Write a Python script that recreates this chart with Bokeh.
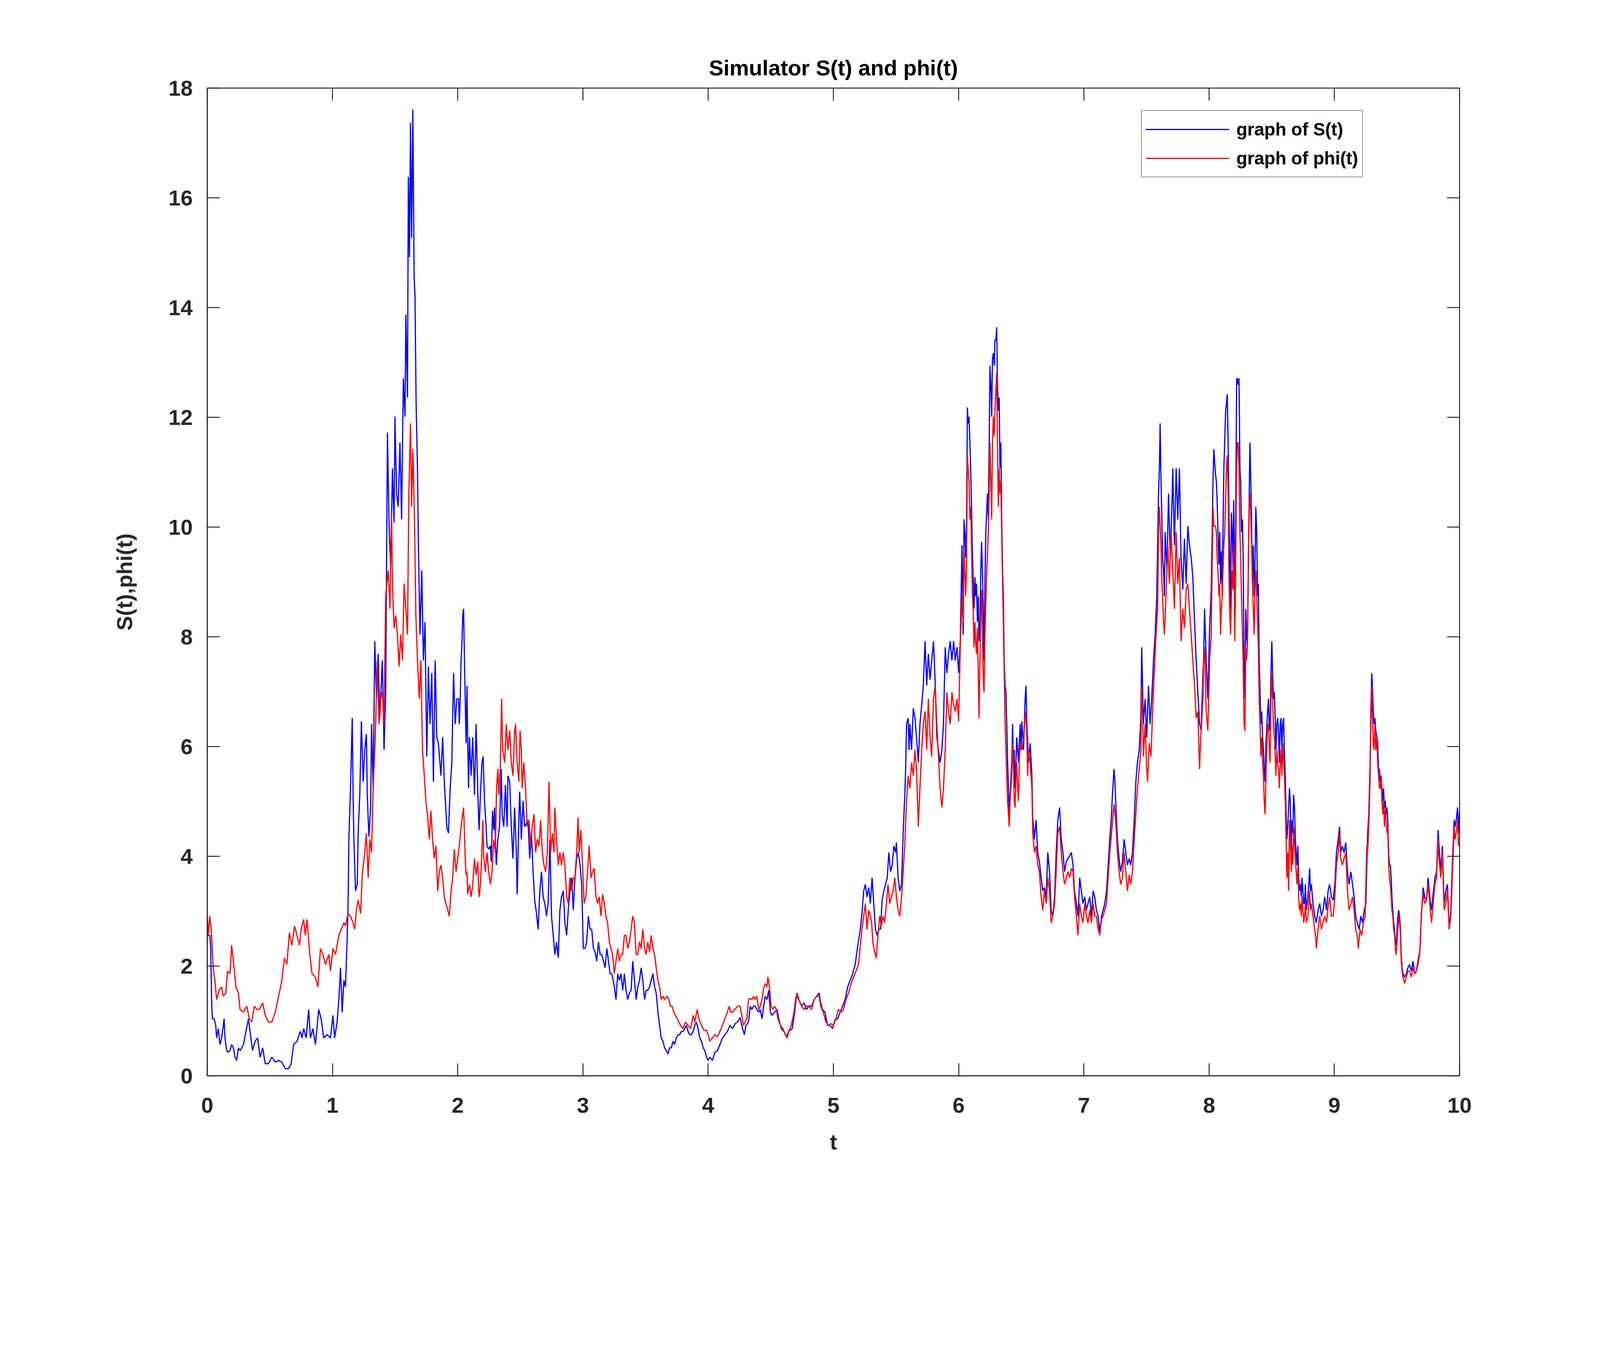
import math
from bokeh.plotting import figure
from bokeh.models import Range1d, FixedTicker, Legend, LegendItem
from bokeh.embed import file_html
from bokeh.resources import INLINE

TITLE = "Simulator S(t) and phi(t)"
X_LABEL = "t"
Y_LABEL = "S(t),phi(t)"
LEGEND_LABELS = ["graph of S(t)", "graph of phi(t)"]
X_TICKS = [0, 1, 2, 3, 4, 5, 6, 7, 8, 9, 10]
Y_TICKS = [0, 2, 4, 6, 8, 10, 12, 14, 16, 18]

s_points = [
    (0.000, 2.56), (0.021, 2.56), (0.028, 2.32), (0.035, 1.39), (0.041, 1.04), (0.055, 1.04), (0.068, 0.92),
    (0.075, 0.69), (0.088, 0.86), (0.102, 0.57), (0.115, 0.69), (0.128, 0.92), (0.135, 1.04), (0.142, 0.69),
    (0.155, 0.46), (0.168, 0.43), (0.182, 0.46), (0.195, 0.57), (0.209, 0.51), (0.222, 0.34), (0.235, 0.28),
    (0.249, 0.51), (0.262, 0.46), (0.275, 0.51), (0.289, 0.57), (0.309, 0.81), (0.329, 1.04), (0.342, 0.81),
    (0.362, 0.46), (0.382, 0.63), (0.402, 0.69), (0.422, 0.34), (0.443, 0.51), (0.463, 0.22), (0.489, 0.22),
    (0.516, 0.34), (0.543, 0.25), (0.570, 0.28), (0.596, 0.25), (0.623, 0.13), (0.650, 0.13), (0.670, 0.22),
    (0.690, 0.57), (0.717, 0.63), (0.743, 0.81), (0.757, 0.69), (0.770, 0.86), (0.790, 0.69), (0.810, 1.21),
    (0.824, 0.69), (0.844, 0.86), (0.864, 0.57), (0.890, 1.21), (0.910, 1.04), (0.930, 0.69), (0.957, 0.75),
    (0.984, 0.69), (1.004, 1.10), (1.017, 0.69), (1.037, 0.98), (1.051, 1.39), (1.064, 1.97), (1.078, 1.16),
    (1.091, 1.74), (1.104, 1.62), (1.118, 2.56), (1.124, 3.02), (1.131, 4.31), (1.144, 5.24), (1.158, 6.52),
    (1.164, 5.24), (1.171, 4.31), (1.184, 3.37), (1.198, 3.49), (1.205, 4.42), (1.218, 5.12), (1.231, 6.46),
    (1.245, 5.36), (1.258, 5.94), (1.271, 6.23), (1.278, 5.12), (1.291, 4.36), (1.305, 4.89), (1.312, 6.41),
    (1.325, 5.24), (1.338, 7.92), (1.352, 6.87), (1.365, 7.69), (1.378, 6.52), (1.398, 7.57), (1.412, 5.94),
    (1.425, 6.99), (1.439, 11.72), (1.452, 10.02), (1.465, 9.32), (1.479, 11.07), (1.492, 10.08), (1.499, 12.01),
    (1.512, 10.61), (1.525, 10.37), (1.539, 11.54), (1.552, 10.14), (1.566, 12.71), (1.579, 12.01), (1.586, 13.87),
    (1.599, 12.36), (1.606, 16.38), (1.615, 14.92), (1.623, 17.37), (1.632, 15.27), (1.642, 17.61), (1.652, 14.57),
    (1.659, 14.22), (1.668, 12.24), (1.679, 11.07), (1.686, 9.73), (1.699, 8.04), (1.713, 9.21), (1.726, 7.57),
    (1.739, 8.27), (1.753, 5.82), (1.766, 7.46), (1.779, 6.41), (1.793, 7.34), (1.806, 5.36), (1.820, 7.57),
    (1.833, 6.17), (1.846, 6.06), (1.866, 5.47), (1.880, 6.17), (1.893, 5.36), (1.913, 4.54), (1.926, 4.42),
    (1.940, 5.24), (1.953, 5.71), (1.967, 7.34), (1.980, 6.41), (1.993, 6.87),
    (2.007, 6.87), (2.013, 6.41), (2.020, 6.87), (2.027, 7.57), (2.033, 7.81), (2.040, 8.39), (2.047, 8.51),
    (2.054, 7.57), (2.060, 6.87), (2.067, 6.06), (2.074, 7.11), (2.080, 6.06), (2.087, 5.24), (2.094, 6.17),
    (2.107, 5.47), (2.120, 6.17), (2.134, 5.12), (2.147, 6.41), (2.161, 5.12), (2.171, 4.48), (2.181, 5.12),
    (2.194, 5.71), (2.203, 5.82), (2.214, 5.01), (2.227, 4.54), (2.234, 4.19), (2.247, 4.13), (2.261, 4.19),
    (2.268, 3.90), (2.278, 4.83), (2.288, 4.48), (2.294, 4.89), (2.308, 3.84), (2.321, 4.31), (2.334, 4.54),
    (2.348, 5.59), (2.355, 4.77), (2.368, 4.54), (2.381, 5.30), (2.395, 4.54), (2.401, 5.47), (2.415, 5.36),
    (2.428, 4.54), (2.441, 3.96), (2.455, 4.89), (2.468, 4.07), (2.475, 3.31), (2.488, 4.66), (2.495, 5.18),
    (2.508, 4.31), (2.522, 5.01), (2.535, 4.54), (2.548, 4.60), (2.562, 4.66), (2.575, 3.96), (2.589, 4.42),
    (2.602, 3.72), (2.615, 3.20), (2.629, 2.96), (2.642, 2.67), (2.656, 3.37), (2.669, 3.72), (2.682, 3.26),
    (2.696, 3.14), (2.709, 2.91), (2.722, 3.14), (2.736, 4.31), (2.749, 2.91), (2.763, 2.56), (2.776, 2.21),
    (2.789, 2.44), (2.803, 2.15), (2.816, 3.02), (2.829, 3.26), (2.843, 3.37), (2.856, 2.79), (2.870, 2.56),
    (2.883, 3.02), (2.896, 3.37), (2.910, 3.61), (2.923, 3.02), (2.936, 3.61), (2.950, 3.96), (2.963, 4.07),
    (2.977, 3.84), (2.990, 3.49), (3.003, 2.32), (3.017, 2.32), (3.030, 2.44), (3.043, 2.91), (3.057, 2.67),
    (3.070, 2.67), (3.084, 2.32), (3.097, 2.26), (3.110, 2.09), (3.124, 2.44), (3.137, 2.21), (3.150, 2.21),
    (3.164, 2.09), (3.177, 1.97), (3.191, 2.32), (3.204, 2.09), (3.217, 1.86), (3.231, 1.86), (3.251, 1.62),
    (3.264, 1.39), (3.278, 1.86), (3.291, 1.74), (3.304, 1.86), (3.318, 1.56), (3.331, 1.86), (3.344, 1.56),
    (3.358, 1.39), (3.371, 1.51), (3.385, 1.56), (3.398, 2.09), (3.411, 1.74), (3.425, 1.39), (3.438, 1.62),
    (3.452, 1.74), (3.465, 1.97), (3.478, 1.74), (3.492, 1.39), (3.505, 1.56), (3.518, 1.56), (3.532, 1.62),
    (3.545, 1.74), (3.559, 1.86), (3.572, 1.62), (3.585, 1.51), (3.599, 1.16), (3.612, 0.92), (3.625, 0.69),
    (3.639, 0.63), (3.652, 0.51), (3.666, 0.46), (3.679, 0.40), (3.692, 0.51), (3.706, 0.51), (3.719, 0.63),
    (3.732, 0.57), (3.746, 0.69), (3.759, 0.75), (3.773, 0.75), (3.786, 0.81), (3.799, 0.81), (3.813, 0.86),
    (3.826, 0.92), (3.839, 0.81), (3.853, 0.75), (3.866, 0.75), (3.880, 0.81), (3.893, 0.92), (3.906, 0.98),
    (3.920, 0.86), (3.933, 0.69), (3.947, 0.63), (3.960, 0.51), (3.973, 0.46), (3.987, 0.34), (4.000, 0.28),
    (4.013, 0.34), (4.034, 0.28), (4.054, 0.43), (4.074, 0.46), (4.094, 0.57), (4.114, 0.69), (4.134, 0.75),
    (4.154, 0.81), (4.174, 0.92), (4.195, 0.86), (4.215, 0.95), (4.235, 0.98), (4.255, 1.06), (4.275, 0.86),
    (4.289, 0.75), (4.302, 0.92), (4.322, 0.98), (4.336, 1.27), (4.349, 1.21), (4.362, 1.27), (4.376, 1.27),
    (4.389, 1.21), (4.403, 1.16), (4.416, 1.21), (4.430, 1.04), (4.443, 1.27), (4.456, 1.45), (4.470, 1.39),
    (4.483, 1.56), (4.497, 1.16), (4.510, 1.10), (4.530, 1.16), (4.550, 1.21), (4.564, 1.04), (4.584, 0.86),
    (4.604, 0.81), (4.624, 0.71), (4.644, 0.81), (4.671, 0.86), (4.691, 1.16), (4.705, 1.45), (4.725, 1.39),
    (4.745, 1.27), (4.765, 1.33), (4.785, 1.21), (4.805, 1.27), (4.826, 1.27), (4.846, 1.39), (4.866, 1.45),
    (4.886, 1.51), (4.899, 1.33), (4.913, 1.21), (4.933, 1.16), (4.953, 0.92), (4.973, 0.92), (4.993, 0.86),
    (5.013, 1.02), (5.034, 1.04), (5.054, 1.16), (5.074, 1.27), (5.094, 1.39), (5.114, 1.62), (5.134, 1.74),
    (5.154, 1.86), (5.174, 2.03), (5.195, 2.38), (5.215, 2.67), (5.228, 2.96), (5.242, 3.37), (5.255, 3.49),
    (5.268, 3.26), (5.282, 3.43), (5.295, 3.14), (5.309, 3.61), (5.322, 3.14), (5.336, 2.67), (5.349, 2.56),
    (5.362, 2.67), (5.376, 2.67), (5.389, 3.20), (5.403, 3.37), (5.416, 3.49), (5.430, 3.61), (5.443, 4.07),
    (5.456, 3.72), (5.470, 3.84), (5.483, 4.19), (5.497, 4.07), (5.503, 4.25), (5.517, 3.61), (5.530, 3.37),
    (5.544, 3.49), (5.557, 4.42), (5.570, 5.12), (5.577, 5.59), (5.584, 6.41), (5.597, 6.52), (5.604, 5.94),
    (5.611, 6.41), (5.624, 5.94), (5.638, 6.70), (5.651, 6.52), (5.664, 6.17), (5.678, 5.71), (5.691, 6.41),
    (5.705, 6.76), (5.718, 7.11), (5.732, 7.92), (5.745, 7.11), (5.758, 7.69), (5.772, 7.22), (5.785, 7.57),
    (5.799, 7.92), (5.812, 7.22), (5.826, 6.17), (5.839, 5.94), (5.852, 5.71), (5.866, 5.94), (5.879, 6.41),
    (5.893, 7.81), (5.906, 7.34), (5.919, 7.69), (5.933, 7.92), (5.946, 7.57), (5.960, 7.92), (5.973, 7.57),
    (5.987, 7.81), (6.000, 7.34), (6.013, 7.92), (6.027, 9.67),
    (6.036, 8.04), (6.043, 10.14), (6.050, 9.91), (6.056, 9.44), (6.063, 10.02), (6.070, 12.18), (6.076, 11.89),
    (6.083, 12.01), (6.090, 11.54), (6.096, 11.07), (6.103, 10.37), (6.110, 9.56), (6.116, 9.09), (6.123, 8.51),
    (6.130, 9.09), (6.136, 8.74), (6.143, 8.97), (6.150, 8.27), (6.157, 8.74), (6.163, 7.92), (6.170, 8.16),
    (6.177, 9.21), (6.183, 9.73), (6.190, 9.21), (6.197, 8.39), (6.203, 7.57), (6.210, 8.97), (6.217, 9.91),
    (6.230, 10.61), (6.237, 10.14), (6.244, 11.54), (6.250, 12.94), (6.257, 12.59), (6.264, 12.01), (6.270, 13.06),
    (6.277, 13.17), (6.284, 12.94), (6.290, 13.41), (6.297, 13.41), (6.304, 13.64), (6.310, 12.59), (6.317, 12.12),
    (6.324, 12.36), (6.330, 11.07), (6.337, 11.54), (6.344, 10.14), (6.351, 9.21), (6.357, 8.74), (6.364, 7.57),
    (6.371, 7.11), (6.378, 6.99), (6.384, 6.41), (6.391, 5.71), (6.398, 5.24), (6.404, 4.77), (6.411, 5.12),
    (6.424, 5.71), (6.431, 6.41), (6.438, 5.59), (6.444, 5.94), (6.451, 5.24), (6.458, 5.71), (6.464, 6.17),
    (6.478, 5.71), (6.491, 6.41), (6.498, 5.94), (6.505, 6.46), (6.518, 5.94), (6.531, 6.87), (6.538, 7.11),
    (6.545, 6.41), (6.558, 5.71), (6.571, 6.06), (6.585, 5.47), (6.592, 4.71), (6.605, 4.31), (6.618, 4.66),
    (6.632, 4.07), (6.645, 3.90), (6.659, 3.61), (6.672, 3.37), (6.685, 3.43), (6.699, 3.26), (6.712, 4.07),
    (6.726, 3.72), (6.739, 3.02), (6.752, 2.91), (6.766, 3.26), (6.779, 4.07), (6.792, 4.66), (6.806, 4.89),
    (6.819, 4.31), (6.833, 4.07), (6.846, 3.72), (6.859, 3.90), (6.873, 3.96), (6.886, 4.01), (6.900, 4.07),
    (6.913, 3.84), (6.926, 3.37), (6.940, 3.14), (6.953, 2.91), (6.967, 3.61), (6.980, 3.37), (6.993, 3.14),
    (7.007, 3.26), (7.020, 3.02), (7.033, 3.14), (7.047, 3.26), (7.060, 2.91), (7.074, 3.37), (7.087, 3.26),
    (7.100, 3.02), (7.114, 2.91), (7.127, 2.61), (7.141, 2.91), (7.154, 3.02), (7.167, 3.14), (7.181, 3.37),
    (7.194, 3.84), (7.207, 4.31), (7.221, 4.77), (7.228, 5.12), (7.241, 5.59), (7.248, 5.36), (7.254, 5.01),
    (7.268, 4.31), (7.281, 3.96), (7.294, 3.72), (7.308, 3.90), (7.321, 4.31), (7.335, 4.07), (7.348, 3.84),
    (7.362, 3.96), (7.375, 3.84), (7.388, 4.07), (7.402, 4.66), (7.415, 5.36), (7.428, 5.71), (7.442, 5.94),
    (7.455, 6.52), (7.462, 7.81), (7.469, 7.11), (7.475, 6.41), (7.489, 6.87), (7.502, 6.17), (7.516, 7.11),
    (7.529, 6.41), (7.542, 6.87), (7.556, 7.57), (7.569, 8.04), (7.582, 8.74), (7.596, 10.61), (7.603, 11.07),
    (7.609, 11.89), (7.616, 10.84), (7.623, 10.14), (7.629, 9.44), (7.636, 9.21), (7.643, 8.74), (7.649, 9.91),
    (7.663, 9.21), (7.676, 10.61), (7.690, 9.44), (7.703, 10.37), (7.710, 11.07), (7.723, 9.67), (7.737, 11.07),
    (7.750, 10.14), (7.763, 11.07), (7.776, 9.44), (7.790, 8.86), (7.803, 9.79), (7.817, 8.97), (7.830, 10.02),
    (7.843, 9.67), (7.857, 9.44), (7.870, 9.09), (7.884, 8.27), (7.897, 7.57), (7.910, 6.99), (7.924, 6.41),
    (7.937, 6.29), (7.950, 6.87), (7.964, 8.51), (7.977, 7.57), (7.990, 6.87), (8.004, 8.16), (8.017, 8.86),
    (8.031, 10.84), (8.038, 11.42),
    (8.051, 10.96), (8.058, 10.84), (8.064, 10.49), (8.071, 9.91), (8.078, 9.32), (8.085, 9.91), (8.091, 8.97),
    (8.098, 9.56), (8.105, 8.74), (8.111, 9.91), (8.118, 11.07), (8.132, 12.12), (8.138, 12.24), (8.145, 12.42),
    (8.152, 11.54), (8.158, 10.37), (8.165, 9.44), (8.172, 8.51), (8.178, 10.26), (8.185, 9.91), (8.192, 9.21),
    (8.196, 10.49), (8.201, 9.79), (8.209, 8.51), (8.213, 10.49), (8.220, 12.71), (8.225, 12.71), (8.232, 12.59),
    (8.239, 12.71), (8.246, 11.07), (8.252, 10.84), (8.259, 9.91), (8.266, 10.14), (8.272, 9.44), (8.279, 7.57),
    (8.286, 6.87), (8.293, 8.51), (8.299, 8.04), (8.306, 7.81), (8.313, 9.21), (8.319, 10.37), (8.326, 11.54),
    (8.333, 10.84), (8.340, 9.91), (8.346, 8.97), (8.353, 9.67), (8.360, 8.74), (8.366, 9.21), (8.373, 10.37),
    (8.380, 9.91), (8.387, 8.74), (8.393, 8.97), (8.400, 7.57), (8.407, 6.99), (8.413, 6.41), (8.420, 6.64),
    (8.427, 6.17), (8.434, 5.94), (8.440, 5.59), (8.447, 5.36), (8.454, 6.06), (8.467, 6.64), (8.474, 6.87),
    (8.481, 6.29), (8.487, 6.41), (8.494, 7.34), (8.501, 7.92), (8.507, 7.34), (8.514, 6.87), (8.521, 6.99),
    (8.528, 6.52), (8.534, 5.94), (8.541, 6.41), (8.548, 6.52), (8.554, 6.29), (8.561, 5.71), (8.568, 6.41),
    (8.575, 6.52), (8.581, 5.94), (8.588, 6.41), (8.595, 6.52), (8.601, 5.94), (8.608, 5.47), (8.615, 4.77),
    (8.621, 4.31), (8.628, 4.54), (8.642, 5.24), (8.648, 5.01), (8.655, 4.07), (8.662, 4.66), (8.668, 4.42),
    (8.675, 5.12), (8.682, 4.89), (8.689, 4.31), (8.695, 4.07), (8.702, 3.84), (8.709, 4.19), (8.715, 3.61),
    (8.722, 3.37), (8.729, 3.49), (8.736, 3.26), (8.742, 3.61), (8.749, 3.37), (8.756, 3.14), (8.762, 3.14),
    (8.769, 3.49), (8.776, 3.02), (8.789, 3.26), (8.803, 3.78), (8.809, 3.37), (8.816, 3.49), (8.830, 3.14),
    (8.843, 2.91), (8.856, 2.79), (8.870, 3.02), (8.883, 3.14), (8.897, 2.91), (8.910, 3.02), (8.923, 3.26),
    (8.937, 3.02), (8.950, 3.37), (8.962, 3.49), (8.977, 3.26), (8.991, 3.20), (9.004, 3.49), (9.017, 4.07),
    (9.031, 4.31), (9.042, 4.54), (9.051, 4.07), (9.064, 4.19), (9.078, 4.07), (9.091, 4.25), (9.105, 3.72),
    (9.118, 3.49), (9.132, 3.72), (9.145, 3.49), (9.158, 3.26), (9.170, 2.91), (9.183, 2.79), (9.198, 2.67),
    (9.212, 2.91), (9.225, 2.79), (9.239, 3.02), (9.252, 3.14), (9.266, 4.42), (9.275, 4.77), (9.286, 5.71),
    (9.291, 6.64), (9.299, 7.34), (9.304, 7.11), (9.311, 6.64), (9.317, 6.41), (9.324, 6.52), (9.331, 6.29),
    (9.340, 6.17), (9.346, 6.06), (9.353, 5.59), (9.360, 5.59), (9.366, 5.36), (9.373, 5.47), (9.380, 5.24),
    (9.387, 5.01), (9.393, 5.24), (9.400, 4.89), (9.407, 5.01), (9.413, 4.77), (9.420, 4.89), (9.427, 4.66),
    (9.434, 4.07), (9.440, 3.84), (9.447, 3.84), (9.454, 3.61), (9.460, 3.26), (9.467, 3.02), (9.474, 2.79),
    (9.481, 2.67), (9.487, 2.44), (9.494, 2.38), (9.507, 2.91), (9.514, 3.02), (9.521, 2.91), (9.528, 2.67),
    (9.534, 2.21), (9.541, 1.97), (9.548, 1.86), (9.561, 1.80), (9.575, 1.86), (9.588, 1.97), (9.601, 2.03),
    (9.615, 1.91), (9.628, 2.09), (9.642, 1.86), (9.655, 1.91), (9.668, 2.09), (9.682, 2.26), (9.695, 2.91),
    (9.709, 3.43), (9.722, 3.26), (9.736, 3.20), (9.749, 3.61), (9.762, 3.26), (9.776, 3.02), (9.789, 3.31),
    (9.803, 3.61), (9.816, 3.72), (9.829, 4.48), (9.836, 4.19), (9.850, 3.72), (9.863, 4.19), (9.870, 3.61),
    (9.877, 3.14), (9.890, 3.37), (9.903, 3.49), (9.917, 2.67), (9.930, 3.02), (9.944, 3.96), (9.957, 4.66),
    (9.964, 4.54), (9.973, 4.66), (9.984, 4.89), (9.991, 4.42), (10.000, 4.85),
]

phi_points = [
    (0.000, 2.96), (0.008, 2.56), (0.021, 2.91), (0.035, 2.56), (0.048, 1.97), (0.061, 1.74), (0.075, 1.39),
    (0.095, 1.56), (0.115, 1.62), (0.128, 1.45), (0.148, 1.51), (0.162, 1.91), (0.182, 1.86), (0.195, 2.38),
    (0.209, 2.09), (0.229, 1.62), (0.249, 1.51), (0.262, 1.21), (0.289, 1.16), (0.316, 1.27), (0.336, 1.04),
    (0.356, 0.98), (0.376, 1.27), (0.396, 1.21), (0.416, 1.21), (0.443, 1.33), (0.463, 1.10), (0.489, 0.98),
    (0.516, 0.98), (0.543, 1.16), (0.570, 1.45), (0.596, 1.74), (0.616, 2.15), (0.636, 2.03), (0.656, 2.61),
    (0.676, 2.38), (0.697, 2.73), (0.717, 2.56), (0.737, 2.38), (0.750, 2.67), (0.770, 2.85), (0.783, 2.56),
    (0.797, 2.85), (0.817, 2.26), (0.837, 1.86), (0.864, 1.80), (0.884, 1.62), (0.904, 2.32), (0.924, 2.21),
    (0.944, 2.03), (0.971, 2.21), (0.984, 1.91), (1.004, 2.32), (1.024, 2.21), (1.051, 2.56), (1.071, 2.67),
    (1.091, 2.79), (1.104, 2.73), (1.124, 2.96), (1.144, 2.91), (1.164, 2.79), (1.178, 2.67), (1.191, 3.02),
    (1.205, 3.20), (1.225, 2.96), (1.238, 3.66), (1.258, 4.07), (1.271, 4.42), (1.285, 3.61), (1.298, 4.31),
    (1.312, 4.07), (1.325, 5.24), (1.338, 5.94), (1.345, 6.41), (1.358, 7.57), (1.372, 6.41), (1.385, 6.87),
    (1.398, 6.99), (1.412, 6.41), (1.425, 8.74), (1.445, 9.21), (1.459, 8.51), (1.472, 10.26), (1.479, 8.97),
    (1.492, 8.16), (1.505, 8.39), (1.519, 8.04), (1.532, 7.46), (1.545, 8.04), (1.559, 7.57), (1.572, 8.97),
    (1.586, 8.51), (1.599, 8.04), (1.610, 10.61), (1.623, 11.89), (1.632, 10.37), (1.642, 11.42), (1.655, 10.14),
    (1.666, 8.39), (1.679, 7.57), (1.693, 6.87), (1.706, 7.57), (1.719, 5.94), (1.733, 5.47), (1.746, 5.01),
    (1.759, 4.77), (1.773, 4.31), (1.786, 4.83), (1.799, 4.31), (1.813, 3.96), (1.826, 4.19), (1.840, 3.37),
    (1.853, 3.72), (1.866, 3.84), (1.880, 3.61), (1.893, 3.26), (1.906, 3.14), (1.920, 3.02), (1.933, 2.91),
    (1.947, 3.37), (1.960, 3.61), (1.973, 4.13), (1.987, 3.72),
    (2.013, 4.19), (2.027, 4.54), (2.040, 4.77), (2.047, 4.89), (2.054, 4.42), (2.060, 3.96), (2.067, 3.66),
    (2.074, 3.72), (2.080, 3.31), (2.094, 3.49), (2.107, 3.26), (2.120, 3.49), (2.134, 3.96), (2.147, 3.66),
    (2.161, 3.90), (2.167, 3.37), (2.174, 3.26), (2.187, 3.72), (2.201, 4.66), (2.207, 4.01), (2.221, 3.72),
    (2.234, 4.07), (2.247, 3.72), (2.261, 3.49), (2.274, 3.72), (2.288, 4.31), (2.301, 4.07), (2.310, 5.24),
    (2.321, 5.59), (2.328, 5.12), (2.341, 5.71), (2.351, 6.87), (2.359, 5.94), (2.375, 5.71), (2.388, 6.41),
    (2.401, 5.94), (2.415, 6.29), (2.428, 5.71), (2.441, 5.47), (2.455, 6.29), (2.462, 6.41), (2.475, 5.71),
    (2.488, 5.36), (2.498, 6.29), (2.508, 5.94), (2.515, 5.24), (2.528, 5.71), (2.542, 5.24), (2.555, 4.54),
    (2.569, 4.66), (2.582, 4.19), (2.595, 4.54), (2.609, 4.77), (2.622, 4.07), (2.635, 4.31), (2.649, 4.19),
    (2.662, 4.66), (2.676, 4.07), (2.689, 3.84), (2.702, 3.72), (2.716, 4.07), (2.729, 5.36), (2.742, 4.07),
    (2.756, 4.42), (2.769, 4.07), (2.776, 4.89), (2.789, 4.31), (2.803, 3.84), (2.816, 4.07), (2.829, 3.84),
    (2.843, 4.07), (2.856, 3.84), (2.870, 3.26), (2.883, 3.14), (2.896, 3.61), (2.910, 3.37), (2.923, 3.61),
    (2.936, 3.61), (2.950, 4.07), (2.961, 4.71), (2.970, 4.07), (2.983, 4.48), (2.997, 3.84), (3.010, 3.14),
    (3.023, 3.26), (3.037, 3.72), (3.050, 4.19), (3.064, 3.61), (3.077, 3.72), (3.090, 3.78), (3.104, 3.26),
    (3.117, 3.14), (3.130, 3.26), (3.144, 2.91), (3.157, 3.31), (3.171, 3.14), (3.184, 2.91), (3.197, 2.79),
    (3.211, 2.44), (3.224, 2.32), (3.237, 2.21), (3.251, 1.86), (3.264, 2.09), (3.278, 2.32), (3.291, 2.09),
    (3.304, 2.21), (3.318, 2.21), (3.331, 2.56), (3.344, 2.56), (3.358, 2.32), (3.371, 2.44), (3.385, 2.67),
    (3.398, 2.91), (3.411, 2.79), (3.425, 2.21), (3.438, 2.21), (3.452, 2.44), (3.465, 2.32), (3.478, 2.67),
    (3.492, 2.32), (3.505, 2.21), (3.518, 2.44), (3.532, 2.26), (3.545, 2.56), (3.559, 2.32), (3.572, 2.21),
    (3.585, 1.97), (3.599, 1.74), (3.612, 1.62), (3.625, 1.39), (3.639, 1.45), (3.652, 1.39), (3.672, 1.45),
    (3.686, 1.39), (3.699, 1.27), (3.712, 1.27), (3.726, 1.16), (3.739, 1.10), (3.753, 1.04), (3.766, 0.98),
    (3.779, 0.92), (3.799, 0.86), (3.819, 0.98), (3.839, 0.92), (3.860, 0.86), (3.880, 1.10), (3.893, 0.98),
    (3.913, 1.21), (3.926, 1.04), (3.947, 0.92), (3.967, 0.83), (3.987, 0.83), (4.000, 0.75),
    (4.013, 0.63), (4.034, 0.69), (4.054, 0.75), (4.074, 0.71), (4.094, 0.81), (4.114, 0.92), (4.134, 1.04),
    (4.154, 1.16), (4.168, 1.27), (4.181, 1.16), (4.195, 1.16), (4.215, 1.21), (4.235, 1.27), (4.255, 1.27),
    (4.269, 1.10), (4.282, 0.92), (4.295, 0.98), (4.309, 1.04), (4.322, 1.39), (4.336, 1.41), (4.349, 1.39),
    (4.362, 1.45), (4.376, 1.39), (4.389, 1.45), (4.403, 1.21), (4.416, 1.27), (4.430, 1.39), (4.443, 1.60),
    (4.456, 1.68), (4.470, 1.62), (4.477, 1.80), (4.490, 1.62), (4.503, 1.27), (4.517, 1.21), (4.530, 1.27),
    (4.544, 1.21), (4.557, 1.04), (4.577, 0.92), (4.597, 0.86), (4.617, 0.75), (4.631, 0.69), (4.644, 0.81),
    (4.664, 0.92), (4.685, 1.16), (4.698, 1.39), (4.709, 1.51), (4.725, 1.39), (4.745, 1.27), (4.765, 1.21),
    (4.785, 1.27), (4.805, 1.27), (4.826, 1.21), (4.846, 1.39), (4.866, 1.45), (4.886, 1.45), (4.899, 1.27),
    (4.919, 1.16), (4.940, 0.98), (4.960, 0.92), (4.980, 0.95), (5.000, 0.92), (5.020, 1.04), (5.040, 1.21),
    (5.060, 1.16), (5.081, 1.21), (5.101, 1.39), (5.121, 1.51), (5.141, 1.68), (5.161, 1.80), (5.181, 1.91),
    (5.201, 2.03), (5.215, 2.38), (5.228, 2.67), (5.242, 2.91), (5.255, 3.14), (5.268, 2.67), (5.282, 3.02),
    (5.295, 2.91), (5.305, 2.79), (5.315, 2.44), (5.329, 2.26), (5.342, 2.15), (5.356, 2.56), (5.369, 2.91),
    (5.383, 2.73), (5.396, 2.91), (5.409, 2.79), (5.423, 3.14), (5.436, 3.49), (5.450, 3.14), (5.463, 3.26),
    (5.477, 3.37), (5.490, 3.61), (5.503, 3.26), (5.517, 3.02), (5.530, 2.91), (5.544, 3.26), (5.557, 3.72),
    (5.570, 4.19), (5.584, 5.01), (5.597, 5.47), (5.611, 5.24), (5.624, 5.71), (5.638, 5.47), (5.651, 5.94),
    (5.664, 5.59), (5.678, 4.54), (5.691, 5.24), (5.705, 5.94), (5.718, 6.41), (5.732, 6.64), (5.745, 5.94),
    (5.758, 6.87), (5.772, 6.17), (5.785, 5.82), (5.799, 6.87), (5.812, 7.11), (5.826, 6.41), (5.839, 5.82),
    (5.852, 5.24), (5.866, 4.89), (5.879, 5.24), (5.893, 5.94), (5.906, 6.99), (5.919, 6.64), (5.933, 6.41),
    (5.946, 6.99), (5.960, 6.76), (5.973, 6.64), (5.987, 6.87), (6.000, 6.46), (6.013, 7.81), (6.027, 8.74),
    (6.036, 8.27), (6.043, 9.56), (6.050, 9.21), (6.056, 8.74), (6.063, 9.21), (6.070, 11.31), (6.076, 11.07),
    (6.083, 10.84), (6.090, 10.14), (6.096, 10.37), (6.103, 9.67), (6.110, 8.74), (6.116, 8.51), (6.123, 7.81),
    (6.130, 8.27), (6.136, 7.92), (6.143, 7.69), (6.150, 8.16), (6.157, 7.34), (6.163, 6.52), (6.170, 7.57),
    (6.177, 8.39), (6.183, 8.86), (6.190, 8.04), (6.197, 7.22), (6.203, 6.99), (6.210, 8.04), (6.223, 9.09),
    (6.237, 9.91), (6.244, 10.61), (6.250, 11.54), (6.257, 10.84), (6.264, 10.14), (6.270, 11.54), (6.277, 12.01),
    (6.284, 11.66), (6.290, 12.12), (6.297, 12.47), (6.304, 12.82), (6.310, 11.54), (6.317, 10.37), (6.324, 11.07),
    (6.330, 10.61), (6.337, 10.84), (6.344, 9.91), (6.351, 8.97), (6.357, 8.27), (6.364, 7.34), (6.371, 6.41),
    (6.378, 5.94), (6.384, 5.47), (6.391, 5.01), (6.398, 4.77), (6.404, 4.54), (6.411, 5.01), (6.424, 5.47),
    (6.431, 6.06), (6.438, 5.71), (6.444, 5.01), (6.451, 4.89), (6.458, 5.47), (6.464, 5.71), (6.471, 5.24),
    (6.478, 5.01), (6.484, 5.71), (6.491, 6.06), (6.505, 5.94), (6.518, 6.17), (6.531, 6.52), (6.538, 6.64),
    (6.545, 6.17), (6.551, 5.47), (6.558, 5.94), (6.571, 5.71), (6.585, 5.24), (6.592, 4.42), (6.605, 4.07),
    (6.618, 4.19), (6.632, 3.84), (6.645, 3.72), (6.659, 3.26), (6.672, 3.02), (6.685, 3.37), (6.699, 3.14),
    (6.712, 3.61), (6.726, 3.37), (6.739, 2.79), (6.752, 2.91), (6.766, 3.14), (6.779, 3.72), (6.792, 4.42),
    (6.806, 4.54), (6.819, 4.07), (6.833, 3.72), (6.846, 3.49), (6.859, 3.61), (6.873, 3.72), (6.886, 3.61),
    (6.900, 3.78), (6.913, 3.72), (6.926, 3.26), (6.940, 2.91), (6.953, 2.56), (6.967, 3.14), (6.980, 2.91),
    (6.993, 2.79), (7.007, 3.14), (7.020, 2.91), (7.033, 2.79), (7.047, 3.02), (7.060, 2.79), (7.074, 3.14),
    (7.087, 2.91), (7.100, 2.91), (7.114, 2.67), (7.127, 2.56), (7.141, 2.85), (7.154, 2.91), (7.167, 3.02),
    (7.181, 3.14), (7.194, 3.61), (7.207, 4.07), (7.221, 4.42), (7.234, 4.77), (7.241, 4.95), (7.248, 4.77),
    (7.254, 4.66), (7.268, 4.07), (7.281, 3.72), (7.294, 3.49), (7.308, 3.61), (7.321, 4.07), (7.335, 3.72),
    (7.348, 3.37), (7.362, 3.66), (7.375, 3.49), (7.388, 3.72), (7.402, 4.31), (7.415, 4.77), (7.428, 5.24),
    (7.442, 5.59), (7.455, 5.94), (7.462, 7.11), (7.469, 6.64), (7.475, 5.82), (7.489, 6.41), (7.502, 5.59),
    (7.509, 5.36), (7.522, 6.06), (7.536, 5.82), (7.549, 6.64), (7.562, 7.34), (7.576, 8.04), (7.589, 8.51),
    (7.596, 9.91), (7.603, 10.37), (7.616, 9.67), (7.623, 8.97), (7.629, 8.74), (7.636, 8.27), (7.643, 8.04),
    (7.656, 8.74), (7.663, 9.21), (7.670, 9.67), (7.683, 8.97), (7.696, 9.91), (7.710, 9.21), (7.723, 8.51),
    (7.737, 9.91), (7.750, 8.97), (7.763, 9.44), (7.776, 7.92), (7.790, 8.51), (7.803, 8.16), (7.817, 8.86),
    (7.830, 8.97), (7.843, 8.51), (7.857, 8.04), (7.870, 7.57), (7.884, 7.11), (7.897, 6.52), (7.910, 6.64),
    (7.924, 5.59), (7.937, 6.41), (7.950, 7.34), (7.964, 7.81), (7.977, 6.64), (7.990, 6.29), (8.004, 7.57),
    (8.017, 8.04), (8.031, 10.37), (8.038, 10.02),
    (8.051, 10.02), (8.058, 9.91), (8.064, 9.44), (8.071, 9.21), (8.078, 8.74), (8.085, 8.97), (8.091, 8.04),
    (8.098, 8.51), (8.105, 8.74), (8.111, 9.21), (8.118, 9.67), (8.125, 9.91), (8.132, 10.49), (8.138, 11.07),
    (8.145, 11.31), (8.152, 10.61), (8.158, 9.21), (8.165, 8.39), (8.172, 8.04), (8.178, 8.74), (8.185, 9.21),
    (8.192, 8.86), (8.199, 9.67), (8.205, 7.92), (8.212, 9.21), (8.218, 10.84), (8.225, 11.54), (8.232, 11.54),
    (8.239, 11.07), (8.246, 9.91), (8.252, 9.44), (8.259, 8.74), (8.266, 8.04), (8.272, 7.57), (8.279, 6.41),
    (8.286, 6.29), (8.293, 7.81), (8.299, 7.57), (8.306, 7.81), (8.313, 9.21), (8.319, 10.37), (8.326, 10.61),
    (8.333, 10.14), (8.340, 9.67), (8.346, 8.97), (8.353, 8.51), (8.360, 8.04), (8.366, 8.86), (8.373, 9.21),
    (8.380, 8.74), (8.387, 8.27), (8.393, 7.81), (8.400, 6.87), (8.407, 6.41), (8.413, 5.82), (8.420, 6.17),
    (8.427, 5.71), (8.434, 5.47), (8.440, 5.01), (8.447, 4.77), (8.454, 5.47), (8.460, 5.94), (8.467, 6.41),
    (8.474, 6.41), (8.481, 5.94), (8.487, 5.71), (8.494, 6.87), (8.501, 7.34), (8.507, 6.87), (8.514, 6.41),
    (8.521, 6.17), (8.528, 5.82), (8.534, 5.47), (8.541, 5.94), (8.548, 5.71), (8.554, 5.59), (8.561, 5.24),
    (8.568, 5.71), (8.575, 5.94), (8.581, 5.47), (8.588, 6.06), (8.595, 5.71), (8.601, 5.47), (8.608, 5.01),
    (8.615, 4.31), (8.621, 3.61), (8.628, 4.07), (8.635, 3.37), (8.642, 4.66), (8.648, 4.42), (8.655, 3.72),
    (8.662, 4.19), (8.668, 3.84), (8.675, 4.54), (8.682, 4.19), (8.689, 3.96), (8.695, 3.72), (8.702, 3.49),
    (8.709, 3.84), (8.715, 3.26), (8.722, 3.02), (8.729, 3.14), (8.736, 2.91), (8.742, 3.26), (8.749, 3.02),
    (8.756, 2.79), (8.762, 2.91), (8.769, 3.14), (8.776, 2.79), (8.789, 2.91), (8.803, 3.37), (8.809, 3.02),
    (8.816, 3.14), (8.830, 2.91), (8.843, 2.67), (8.850, 2.56), (8.856, 2.32), (8.870, 2.67), (8.883, 2.91),
    (8.897, 2.67), (8.910, 2.79), (8.923, 2.91), (8.937, 2.79), (8.950, 3.08), (8.962, 3.26), (8.977, 2.91),
    (8.991, 2.91), (9.004, 3.26), (9.017, 3.84), (9.031, 4.07), (9.042, 4.42), (9.051, 3.96), (9.064, 3.84),
    (9.078, 3.96), (9.091, 4.07), (9.105, 3.37), (9.118, 3.02), (9.132, 3.14), (9.145, 3.26), (9.158, 3.02),
    (9.170, 2.67), (9.183, 2.56), (9.192, 2.32), (9.205, 2.67), (9.219, 2.56), (9.232, 2.79), (9.246, 2.91),
    (9.259, 4.19), (9.266, 4.07), (9.275, 4.54), (9.286, 5.47), (9.291, 6.41), (9.299, 7.11), (9.304, 6.52),
    (9.311, 6.06), (9.317, 5.94), (9.324, 6.41), (9.331, 5.94), (9.340, 6.17), (9.346, 5.71), (9.353, 5.47),
    (9.360, 5.24), (9.366, 5.24), (9.373, 5.47), (9.380, 5.01), (9.387, 4.77), (9.393, 5.01), (9.400, 4.54),
    (9.407, 4.89), (9.413, 4.66), (9.420, 4.42), (9.427, 4.54), (9.434, 3.84), (9.440, 3.61), (9.447, 3.49),
    (9.454, 3.26), (9.460, 3.02), (9.467, 2.91), (9.474, 2.67), (9.481, 2.56), (9.487, 2.32), (9.494, 2.21),
    (9.507, 2.67), (9.514, 2.91), (9.521, 2.79), (9.528, 2.56), (9.534, 2.09), (9.541, 1.91), (9.548, 1.80),
    (9.561, 1.68), (9.575, 1.80), (9.588, 1.91), (9.601, 1.91), (9.615, 1.80), (9.628, 1.97), (9.642, 1.86),
    (9.655, 1.91), (9.668, 2.03), (9.682, 2.21), (9.695, 2.96), (9.709, 3.31), (9.722, 3.14), (9.736, 3.20),
    (9.749, 3.49), (9.762, 3.14), (9.776, 2.79), (9.789, 3.14), (9.803, 3.49), (9.816, 3.61), (9.829, 4.31),
    (9.836, 3.96), (9.850, 3.61), (9.863, 4.07), (9.870, 3.49), (9.877, 3.02), (9.890, 3.14), (9.903, 3.37),
    (9.917, 2.67), (9.930, 2.91), (9.944, 3.72), (9.957, 4.54), (9.964, 4.31), (9.973, 4.42), (9.984, 4.66),
    (9.991, 4.19), (10.000, 4.35),
]

s_t = [a for a, b in s_points]
s_v = [b for a, b in s_points]
phi_t = [a for a, b in phi_points]
phi_v = [b for a, b in phi_points]

FONT = "Liberation Sans"
AX_COLOR = "#262626"

# The photographed page renders about 1.14 device px per CSS px, so the layout is in CSS px
p = figure(width=4082, height=3058, output_backend="svg", toolbar_location=None,
           x_range=Range1d(0, 10), y_range=Range1d(0, 18),
           min_border_left=530, min_border_right=346, min_border_top=225, min_border_bottom=304)
p.background_fill_color = "white"
p.border_fill_color = "white"
p.outline_line_color = AX_COLOR
p.outline_line_width = 2.5
p.xgrid.visible = False
p.ygrid.visible = False

r_s = p.line(s_t, s_v, line_color="#0000FF", line_width=3)
r_phi = p.line(phi_t, phi_v, line_color="#FF0000", line_width=3)

# mirrored inward ticks on the top and right edges (outer half is clipped by the frame)
p.scatter(X_TICKS, [18] * len(X_TICKS), marker="dash", size=64, angle=math.pi / 2,
          line_color=AX_COLOR, line_width=2.5)
p.scatter([10] * len(Y_TICKS), Y_TICKS, marker="dash", size=64,
          line_color=AX_COLOR, line_width=2.5)

for ax, ticks, standoff in ((p.xaxis[0], X_TICKS, 56), (p.yaxis[0], Y_TICKS, 37)):
    ax.ticker = FixedTicker(ticks=ticks)
    ax.axis_line_color = AX_COLOR
    ax.axis_line_width = 2.5
    ax.major_tick_line_color = AX_COLOR
    ax.major_tick_line_width = 2.5
    ax.major_tick_in = 32
    ax.major_tick_out = 0
    ax.minor_tick_in = 0
    ax.minor_tick_out = 0
    ax.major_label_text_font = FONT
    ax.major_label_text_font_style = "bold"
    ax.major_label_text_font_size = "56px"
    ax.major_label_text_color = AX_COLOR
    ax.major_label_standoff = standoff
    ax.axis_label_text_font = FONT
    ax.axis_label_text_font_style = "bold"
    ax.axis_label_text_font_size = "56px"
    ax.axis_label_text_color = AX_COLOR

p.xaxis[0].axis_label = X_LABEL
p.yaxis[0].axis_label = Y_LABEL
p.xaxis[0].axis_label_standoff = 40
p.yaxis[0].axis_label_standoff = 78

p.title.text = TITLE
p.title.text_font = FONT
p.title.text_font_style = "bold"
p.title.text_font_size = "56px"
p.title.text_color = "black"
p.title.align = "center"
p.title.standoff = 42

legend = Legend(items=[LegendItem(label=LEGEND_LABELS[0], renderers=[r_s]),
                       LegendItem(label=LEGEND_LABELS[1], renderers=[r_phi])],
                location=(2391, 2300))
legend.label_text_font = FONT
legend.label_text_font_style = "bold"
legend.label_text_font_size = "46px"
legend.label_text_color = "black"
legend.border_line_color = AX_COLOR
legend.border_line_width = 2.5
legend.background_fill_color = "white"
legend.background_fill_alpha = 1.0
legend.padding = 10
legend.spacing = 0
legend.margin = 0
legend.glyph_width = 214
legend.label_standoff = 18
legend.label_height = 74
p.add_layout(legend, "center")

open("out.html", "w").write(file_html(p, INLINE))
